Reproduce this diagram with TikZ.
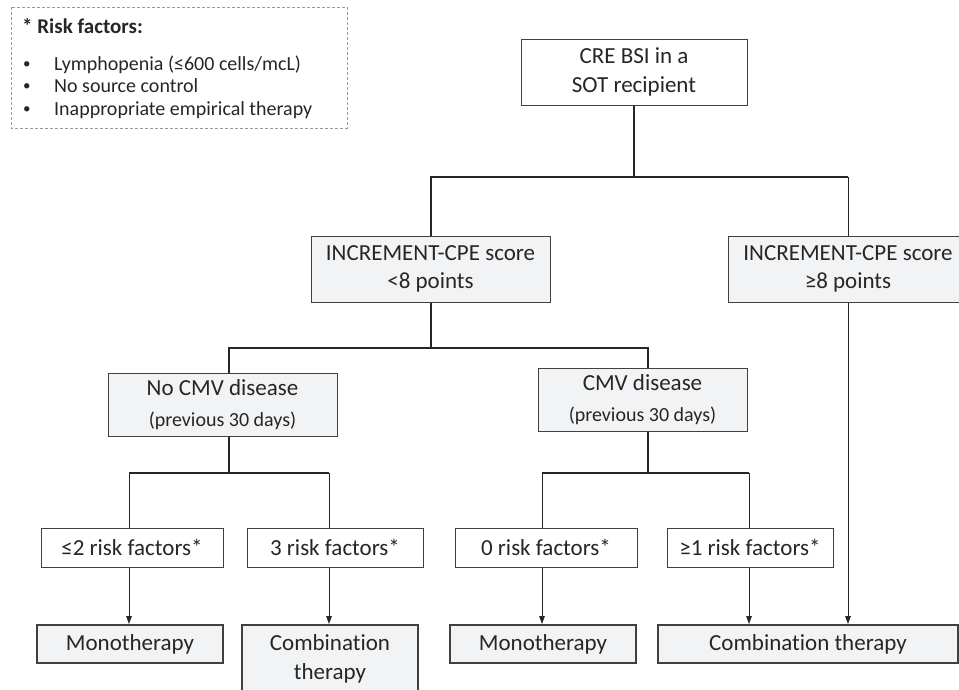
\documentclass[tikz,border=0pt]{standalone}
\usepackage{fontspec}
\setmainfont{Carlito}[Ligatures=NoCommon]
\usetikzlibrary{arrows.meta}
\definecolor{gf}{HTML}{F2F3F5}
\definecolor{bc}{HTML}{404040}
\definecolor{lc}{HTML}{262626}
\definecolor{tc}{HTML}{262626}
\definecolor{dc}{HTML}{9A9A9A}
\newcommand\bxfont{\fontsize{23}{28.5}\selectfont}
\newcommand\smfont{\fontsize{20}{24}\selectfont}
\newcommand\lgfont{\fontsize{20}{24}\selectfont}
\tikzset{
  box/.style={draw=bc, line width=1pt, inner sep=0pt, align=center, font=\bxfont, text=tc, fill=white},
  graybox/.style={box, fill=gf},
  endbox/.style={graybox, line width=1.8pt},
  trunk/.style={draw=lc, line width=2pt},
  branch/.style={draw=lc, line width=1pt},
  arr/.style={branch, -{Triangle[length=8pt,width=5.5pt]}},
  lgtext/.style={anchor=base west, inner sep=0pt, font=\lgfont, text=tc},
  bullet/.style={anchor=base west, inner sep=0pt, font=\fontsize{15}{15}\selectfont, text=tc},
}
\begin{document}
\begin{tikzpicture}[x=1pt,y=-1pt]
\useasboundingbox (0,0) rectangle (959,689);
% legend
\draw[dc, line width=0.8pt, dash pattern=on 3pt off 2pt] (11,7) rectangle (347,128);
\node[anchor=base west, inner sep=0pt, font=\fontsize{21}{24}\selectfont\bfseries, text=tc] (lgh) at (22,33) {* Risk factors:};
\node[bullet] (b1) at (23,68) {•};
\node[lgtext] (l1) at (54,70) {Lymphopenia (≤600 cells/mcL)};
\node[bullet] (b2) at (23,90.5) {•};
\node[lgtext] (l2) at (54,92.5) {No source control};
\node[bullet] (b3) at (23,113) {•};
\node[lgtext] (l3) at (54,115) {Inappropriate empirical therapy};
% boxes
\node[box, minimum width=226pt, minimum height=66pt] (cre) at (634,72) {CRE BSI in a\\SOT recipient};
\node[graybox, minimum width=239pt, minimum height=66pt] (lt8) at (430.5,269) {INCREMENT-CPE score\\<8 points};
\node[graybox, minimum width=240pt, minimum height=66pt] (ge8) at (848,269) {INCREMENT-CPE score\\≥8 points};
\node[graybox, minimum width=229pt, minimum height=63pt] (ncmv) at (222.5,404.5) {No CMV disease\\[3pt]{\smfont (previous 30 days)}};
\node[graybox, minimum width=209pt, minimum height=63pt] (cmv) at (642.5,399.5) {CMV disease\\[3pt]{\smfont (previous 30 days)}};
\node[box, minimum width=182pt, minimum height=39pt] (r2) at (132,547.5) {≤2 risk factors*};
\node[box, minimum width=176pt, minimum height=39pt] (r3) at (335,547.5) {3 risk factors*};
\node[box, minimum width=182pt, minimum height=39pt] (r0) at (546,547.5) {0 risk factors*};
\node[box, minimum width=166pt, minimum height=39pt] (r1) at (750,547.5) {≥1 risk factors*};
\node[endbox, minimum width=186pt, minimum height=38pt] (mono1) at (130,644) {Monotherapy};
\node[endbox, minimum width=176pt, minimum height=68pt] (combo1) at (330,659) {Combination\\therapy};
\node[endbox, minimum width=186pt, minimum height=38pt] (mono2) at (543,644) {Monotherapy};
\node[endbox, minimum width=300pt, minimum height=38pt] (combo2) at (808,644) {Combination therapy};
% attachment points
\coordinate (ncmvt) at ([xshift=6.5]ncmv.north);
\coordinate (ncmvb) at ([xshift=6.5]ncmv.south);
\coordinate (cmvt) at ([xshift=5]cmv.north);
\coordinate (cmvb) at ([xshift=5]cmv.south);
\coordinate (r2t) at ([xshift=-3]r2.north);
\coordinate (r2b) at ([xshift=-3]r2.south);
\coordinate (r3t) at ([xshift=-6]r3.north);
\coordinate (r3b) at ([xshift=-6]r3.south);
\coordinate (r0t) at ([xshift=-4]r0.north);
\coordinate (r0b) at ([xshift=-4]r0.south);
\coordinate (r1t) at ([xshift=-1]r1.north);
\coordinate (r1b) at ([xshift=-1]r1.south);
% level 1
\coordinate (j1) at ([yshift=-71]cre.south);
\draw[trunk] (cre.south) -- (j1);
\draw[trunk] (j1) -| (lt8.north);
\draw[trunk] (j1) -- (j1 -| ge8.north) coordinate (j1b);
\draw[branch] (j1b) -- (ge8.north);
% level 2
\coordinate (j2) at ([yshift=-45]lt8.south);
\draw[trunk] (lt8.south) -- (j2);
\draw[trunk] (j2) -| (ncmvt);
\draw[trunk] (j2) -| (cmvt);
% level 3 left
\coordinate (j3) at ([yshift=-36]ncmvb);
\draw[trunk] (ncmvb) -- (j3);
\draw[trunk] (j3) -- (j3 -| r2t) coordinate (j3a);
\draw[trunk] (j3) -- (j3 -| r3t) coordinate (j3b);
\draw[branch] (j3a) -- (r2t);
\draw[branch] (j3b) -- (r3t);
% level 3 right
\coordinate (j4) at ([yshift=-41]cmvb);
\draw[trunk] (cmvb) -- (j4);
\draw[trunk] (j4) -- (j4 -| r0t) coordinate (j4a);
\draw[trunk] (j4) -- (j4 -| r1t) coordinate (j4b);
\draw[branch] (j4a) -- (r0t);
\draw[branch] (j4b) -- (r1t);
% arrows
\draw[arr] (r2b) -- (r2b |- mono1.north);
\draw[arr] (r3b) -- (r3b |- combo1.north);
\draw[arr] (r0b) -- (r0b |- mono2.north);
\draw[arr] (r1b) -- (r1b |- combo2.north);
\draw[arr] (ge8.south) -- (ge8.south |- combo2.north);
\end{tikzpicture}
\end{document}
